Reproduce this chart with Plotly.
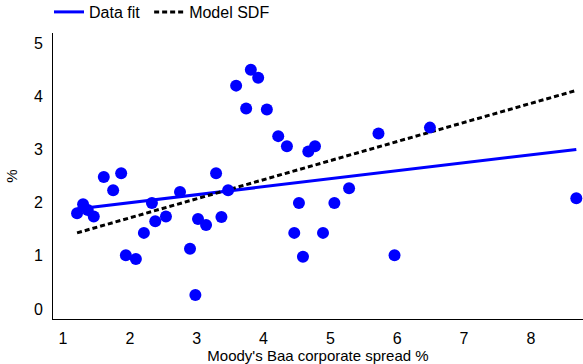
import plotly.graph_objects as go

spread = [1.21, 1.30, 1.37, 1.46, 1.61, 1.87, 1.75, 1.94, 2.09, 2.21, 2.33, 2.38, 2.54,
          2.75, 2.90, 2.98, 3.02, 3.14, 3.29, 3.37, 3.47, 3.59, 3.81, 3.92, 3.74, 4.05,
          4.22, 4.35, 4.67, 4.77, 5.72, 6.49, 4.53, 5.06, 5.28, 4.46, 4.89, 4.59, 5.96, 8.68]
excess = [1.80, 1.97, 1.86, 1.74, 2.48, 2.55, 2.23, 1.01, 0.94, 1.43, 1.99, 1.65, 1.74,
          2.20, 1.13, 0.26, 1.69, 1.58, 2.55, 1.73, 2.23, 4.20, 4.50, 4.35, 3.77, 3.75,
          3.25, 3.06, 2.96, 3.06, 3.30, 3.41, 1.99, 1.99, 2.27, 1.43, 1.43, 0.98, 1.01, 2.08]

fit_x = [1.21, 8.68]
fit_y = [1.88, 3.00]
sdf_x = [1.21, 8.68]
sdf_y = [1.43, 4.11]

FONT = "Liberation Sans, Arial, sans-serif"

fig = go.Figure()
fig.add_trace(go.Scatter(x=fit_x, y=fit_y, mode="lines", name="Data fit\u00a0",
                         line=dict(color="#0000ff", width=3)))
fig.add_trace(go.Scatter(x=sdf_x, y=sdf_y, mode="lines", name="Model SDF",
                         line=dict(color="black", width=3, dash="5px,3px")))
fig.add_trace(go.Scatter(x=spread, y=excess, mode="markers", showlegend=False,
                         marker=dict(color="#0000ff", size=12, line=dict(width=0))))

fig.update_layout(
    width=583, height=364,
    margin=dict(l=53, r=0, t=33, b=45, autoexpand=False),
    paper_bgcolor="white", plot_bgcolor="white",
    font=dict(family=FONT, size=15, color="black"),
    legend=dict(orientation="h", x=-4/530, xanchor="left", y=(319-12)/286,
                yanchor="middle", itemwidth=30, font=dict(size=16),
                bgcolor="rgba(0,0,0,0)", traceorder="normal"),
    xaxis=dict(range=[0.85, 8.78], tickvals=[1, 2, 3, 4, 5, 6, 7, 8],
               showgrid=False, zeroline=False, showline=True, linecolor="black",
               linewidth=1, ticks="outside", ticklen=5, tickcolor="rgba(0,0,0,0)",
               tickfont=dict(size=16),
               title=dict(text="Moody's Baa corporate spread %", standoff=6,
                          font=dict(size=15)),
               automargin=False),
    yaxis=dict(range=[-0.19, 5.19], tickvals=[0, 1, 2, 3, 4, 5],
               showgrid=False, zeroline=False, showline=True, linecolor="black",
               linewidth=1, ticks="outside", ticklen=6, tickcolor="rgba(0,0,0,0)",
               tickfont=dict(size=16),
               title=dict(text="%", standoff=12, font=dict(size=15)),
               automargin=False),
)

fig.write_html("out.html")
